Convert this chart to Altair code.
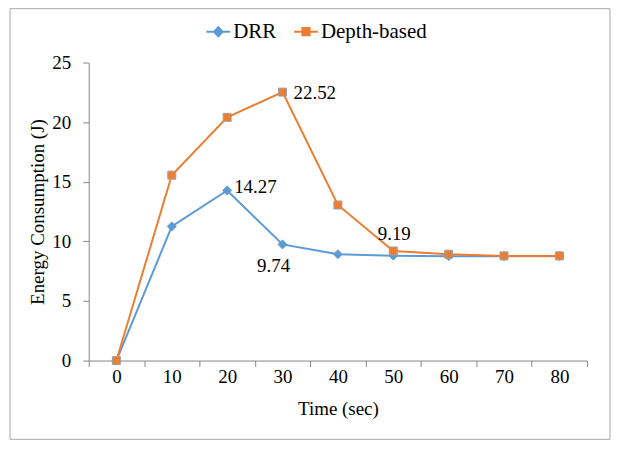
import altair as alt
import pandas as pd

# ---- data ----
times = [0, 10, 20, 30, 40, 50, 60, 70, 80]
drr = [0, 11.25, 14.27, 9.74, 8.92, 8.8, 8.75, 8.75, 8.75]
depth = [0, 15.55, 20.4, 22.52, 13.05, 9.19, 8.92, 8.78, 8.78]
series_names = ["DRR", "Depth-based"]
series_colors = ["#5B9BD5", "#ED7D31"]
y_ticks = [0, 5, 10, 15, 20, 25]
x_edges = [-5, 5, 15, 25, 35, 45, 55, 65, 75, 85]

label_times = [20, 30, 30, 50]
label_values = [14.27, 22.52, 9.74, 9.19]
label_texts = ["14.27", "22.52", "9.74", "9.19"]

FONT = "Liberation Serif"
FS = 19
AXIS_GRAY = "#868686"

rows = []
for t, v in zip(times, drr):
    rows.append({"time": t, "value": v, "series": "DRR"})
for t, v in zip(times, depth):
    rows.append({"time": t, "value": v, "series": "Depth-based"})
df = pd.DataFrame(rows)

W, H = 500, 299
band = W / 9.0

x_enc = alt.X(
    "time:Q",
    scale=alt.Scale(domain=[-5, 85], nice=False, zero=False),
    axis=alt.Axis(
        values=x_edges,
        labelExpr="datum.value < 80 ? format(datum.value + 5, 'd') : ''",
        labelOffset=band / 2,
        labelFlush=False,
        labelOverlap=False,
        grid=False,
        tickSize=6,
        labelPadding=1,
        title="Time (sec)",
        titlePadding=13,
    ),
)
y_enc = alt.Y(
    "value:Q",
    scale=alt.Scale(domain=[0, 25], nice=False),
    axis=alt.Axis(
        values=y_ticks,
        grid=False,
        tickSize=6,
        labelPadding=12,
        title="Energy Consumption (J)",
        titlePadding=4,
    ),
)

drr_path = "M-1,0L1,0M0,-0.38L0.36,0L0,0.38L-0.36,0Z"
sq_path = "M-1,0L1,0M-0.3,-0.3L0.3,-0.3L0.3,0.3L-0.3,0.3Z"
legend = alt.Legend(
    title=None,
    orient="none",
    legendX=117,
    legendY=-44,
    direction="horizontal",
    padding=0,
    symbolType=alt.ExprRef(f"datum.value == 'DRR' ? '{drr_path}' : '{sq_path}'"),
    symbolFillColor=alt.ExprRef(f"datum.value == 'DRR' ? '{series_colors[0]}' : '{series_colors[1]}'"),
    symbolStrokeColor=alt.ExprRef(f"datum.value == 'DRR' ? '{series_colors[0]}' : '{series_colors[1]}'"),
    symbolSize=576,
    symbolStrokeWidth=2,
    symbolOpacity=1,
    labelFont=FONT,
    labelFontSize=21,
    labelColor="black",
    labelOffset=2,
    columnPadding=13,
)
color_enc = alt.Color(
    "series:N",
    scale=alt.Scale(domain=series_names, range=series_colors),
    legend=legend,
)

base = alt.Chart(df).encode(x=x_enc, y=y_enc, color=color_enc)

drr_line = base.transform_filter("datum.series == 'DRR'").mark_line(strokeWidth=2)
drr_pts = base.transform_filter("datum.series == 'DRR'").mark_point(
    shape="diamond", filled=True, size=85, opacity=1, stroke="#6F9FCC", strokeWidth=0.8
)
dep_line = base.transform_filter("datum.series == 'Depth-based'").mark_line(strokeWidth=2)
dep_pts = base.transform_filter("datum.series == 'Depth-based'").mark_point(
    shape="square", filled=True, size=64, opacity=1, stroke="#A0A0A0", strokeWidth=1
)

lab_df = pd.DataFrame({"time": label_times, "value": label_values, "label": label_texts})


def lab(i, align, dx, dy):
    return alt.Chart(lab_df.iloc[[i]]).mark_text(
        align=align, baseline="middle", dx=dx, dy=dy, font=FONT, fontSize=FS, color="black"
    ).encode(
        x=alt.X("time:Q"), y=alt.Y("value:Q"), text="label:N"
    )


labels = [
    lab(0, "left", 7, -3),
    lab(1, "left", 11, 1),
    lab(2, "center", -9, 22),
    lab(3, "center", 1, -17),
]

frame = alt.Chart(pd.DataFrame({"a": [0]})).mark_rect(
    fillOpacity=0, stroke="#A6A6A6", strokeWidth=1
).encode(
    x=alt.value(-79), x2=alt.value(523), y=alt.value(-54), y2=alt.value(378)
)

chart = alt.layer(
    frame, drr_line, drr_pts, dep_line, dep_pts, *labels
).properties(
    width=W,
    height=H,
    autosize=alt.AutoSizeParams(type="none"),
    padding={"left": 81, "top": 54, "right": 25, "bottom": 81},
    background="white",
).configure_view(
    strokeWidth=0
).configure_text(
    font=FONT
).configure_axis(
    labelFont=FONT,
    labelFontSize=FS,
    labelColor="black",
    titleFont=FONT,
    titleFontSize=FS,
    titleFontWeight="normal",
    titleColor="black",
    domainColor=AXIS_GRAY,
    tickColor=AXIS_GRAY,
    domainWidth=1,
    tickWidth=1,
)

chart.save("out.html", embed_options={"renderer": "svg", "actions": False})
